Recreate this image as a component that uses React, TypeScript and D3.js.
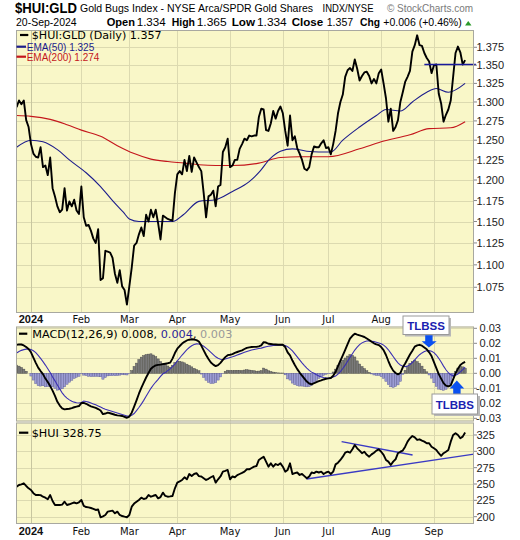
import React from 'react';
import * as d3 from 'd3';

// ---------- data ----------
const HOLIDAYS = ['2023-12-25', '2024-1-1', '2024-1-15', '2024-2-19', '2024-3-29', '2024-5-27', '2024-6-19', '2024-7-4', '2024-9-2'];
const MONTH_LABELS = ['2024', 'Feb', 'Mar', 'Apr', 'May', 'Jun', 'Jul', 'Aug', 'Sep'];

// $HUI:GLD daily close, 21-Dec-2023 .. 20-Sep-2024
const RATIO = [
  1.293, 1.302, 1.297, 1.302, 1.276, 1.267, 1.245, 1.233, 1.229, 1.228,
  1.241, 1.216, 1.218, 1.206, 1.228, 1.190, 1.180, 1.168, 1.161, 1.164,
  1.190, 1.163, 1.174, 1.168, 1.176, 1.163, 1.159, 1.192, 1.155, 1.145,
  1.146, 1.139, 1.130, 1.125, 1.141, 1.083, 1.085, 1.116, 1.115, 1.114,
  1.108, 1.090, 1.080, 1.094, 1.076, 1.072, 1.056, 1.076, 1.097, 1.122,
  1.125, 1.135, 1.143, 1.133, 1.158, 1.150, 1.164, 1.155, 1.164, 1.148,
  1.129, 1.157, 1.155, 1.153, 1.152, 1.151, 1.184, 1.207, 1.211, 1.207,
  1.225, 1.211, 1.230, 1.210, 1.228, 1.222, 1.216, 1.211, 1.184, 1.155,
  1.180, 1.182, 1.187, 1.168, 1.192, 1.194, 1.235, 1.241, 1.252, 1.216,
  1.218, 1.225, 1.225, 1.239, 1.245, 1.252, 1.250, 1.256, 1.255, 1.256,
  1.256, 1.280, 1.291, 1.290, 1.263, 1.262, 1.272, 1.288, 1.278, 1.288,
  1.294, 1.285, 1.262, 1.243, 1.282, 1.250, 1.255, 1.240, 1.233, 1.225,
  1.214, 1.212, 1.216, 1.232, 1.242, 1.241, 1.241, 1.246, 1.250, 1.240,
  1.241, 1.232, 1.245, 1.262, 1.285, 1.300, 1.310, 1.334, 1.343, 1.346,
  1.342, 1.358, 1.345, 1.329, 1.335, 1.340, 1.341, 1.335, 1.325, 1.331,
  1.325, 1.339, 1.344, 1.325, 1.305, 1.274, 1.291, 1.262, 1.267, 1.276,
  1.300, 1.313, 1.327, 1.334, 1.342, 1.369, 1.378, 1.392, 1.378, 1.377,
  1.367, 1.360, 1.355, 1.339, 1.350, 1.351, 1.311, 1.298, 1.274, 1.283,
  1.290, 1.302, 1.334, 1.367, 1.376, 1.368, 1.351, 1.357,
];

// $HUI daily close
const HUI = [
  245.9, 248.5, 249.5, 251.1, 247.0, 243.4, 240.9, 236.0, 233.2, 233.2,
  233.0, 230.6, 229.0, 226.6, 233.2, 224.0, 217.9, 217.9, 217.9, 218.5,
  222.9, 217.9, 219.0, 220.5, 221.7, 220.5, 222.0, 225.6, 216.4, 214.8,
  214.3, 213.3, 212.0, 210.3, 211.0, 199.1, 200.5, 202.6, 207.7, 208.5,
  209.2, 205.2, 207.7, 202.6, 201.0, 200.0, 199.1, 202.6, 215.3, 220.0,
  222.9, 225.6, 229.1, 227.0, 228.0, 233.2, 230.6, 232.0, 233.2, 228.0,
  230.0, 236.8, 231.7, 230.6, 231.0, 231.7, 243.4, 252.1, 254.0, 256.2,
  260.3, 257.2, 265.3, 262.3, 265.3, 266.6, 262.0, 261.5, 258.8, 256.2,
  258.0, 260.3, 262.3, 252.1, 257.2, 261.5, 268.9, 270.0, 271.5, 257.2,
  261.5, 260.3, 263.6, 265.3, 267.0, 268.9, 272.5, 272.5, 274.5, 276.5,
  277.5, 286.8, 289.3, 291.8, 284.2, 276.5, 281.6, 276.5, 280.6, 279.0,
  281.6, 276.5, 268.9, 271.5, 281.6, 265.3, 266.6, 267.6, 263.8, 265.3,
  262.0, 258.7, 261.5, 267.6, 266.6, 268.9, 267.6, 268.9, 265.3, 267.6,
  268.9, 265.3, 268.9, 280.0, 282.6, 286.8, 291.8, 297.9, 299.4, 297.9,
  303.1, 309.7, 304.6, 301.1, 297.1, 299.4, 294.6, 291.8, 295.3, 297.9,
  301.1, 303.1, 299.4, 294.6, 286.8, 284.2, 279.0, 284.2, 287.8, 297.1,
  299.4, 301.1, 307.1, 314.8, 319.9, 323.5, 321.4, 317.4, 318.4, 316.4,
  314.8, 312.3, 312.3, 307.1, 304.6, 302.1, 297.1, 293.1, 297.1, 299.4,
  302.1, 314.8, 325.0, 327.6, 325.0, 319.9, 322.5, 328.75,
];

// MACD(12,26,9) line, daily
const MACD = [
  0.0190, 0.0193, 0.0192, 0.0186, 0.0175, 0.0162, 0.0140, 0.0105, 0.0070, 0.0038,
  0.0015, -0.0005, -0.0035, -0.0058, -0.0085, -0.0115, -0.0150, -0.0190, -0.0215, -0.0233,
  -0.0240, -0.0238, -0.0236, -0.0232, -0.0226, -0.0222, -0.0218, -0.0198, -0.0197, -0.0203,
  -0.0212, -0.0220, -0.0225, -0.0230, -0.0238, -0.0248, -0.0272, -0.0268, -0.0262, -0.0266,
  -0.0271, -0.0276, -0.0280, -0.0282, -0.0284, -0.0290, -0.0296, -0.0288, -0.0262, -0.0222,
  -0.0180, -0.0136, -0.0097, -0.0062, -0.0028, 0.0002, 0.0030, 0.0044, 0.0053, 0.0056,
  0.0058, 0.0061, 0.0064, 0.0067, 0.0071, 0.0098, 0.0135, 0.0164, 0.0182, 0.0198,
  0.0210, 0.0219, 0.0224, 0.0227, 0.0225, 0.0221, 0.0212, 0.0185, 0.0153, 0.0122,
  0.0095, 0.0072, 0.0058, 0.0048, 0.0055, 0.0070, 0.0090, 0.0108, 0.0121, 0.0124,
  0.0128, 0.0136, 0.0142, 0.0148, 0.0153, 0.0162, 0.0170, 0.0173, 0.0175, 0.0176,
  0.0176, 0.0180, 0.0186, 0.0208, 0.0205, 0.0197, 0.0195, 0.0193, 0.0192, 0.0190,
  0.0190, 0.0190, 0.0175, 0.0140, 0.0120, 0.0085, 0.0055, 0.0028, 0.0005, -0.0015,
  -0.0035, -0.0055, -0.0068, -0.0073, -0.0066, -0.0058, -0.0052, -0.0047, -0.0041, -0.0036,
  -0.0034, -0.0031, -0.0016, 0.0010, 0.0048, 0.0085, 0.0120, 0.0157, 0.0195, 0.0231,
  0.0250, 0.0264, 0.0258, 0.0253, 0.0248, 0.0242, 0.0232, 0.0222, 0.0210, 0.0200,
  0.0193, 0.0188, 0.0175, 0.0155, 0.0122, 0.0082, 0.0045, 0.0018, 0.0002, -0.0007,
  0.0002, 0.0040, 0.0065, 0.0095, 0.0125, 0.0150, 0.0178, 0.0186, 0.0190, 0.0184,
  0.0172, 0.0160, 0.0140, 0.0115, 0.0075, 0.0035, -0.0005, -0.0035, -0.0065, -0.0082,
  -0.0087, -0.0080, -0.0040, 0.0000, 0.0031, 0.0055, 0.0068, 0.0076,
];

// MACD signal line, daily
const SIGNAL = [
  0.0135, 0.0145, 0.0153, 0.0158, 0.0161, 0.0162, 0.0158, 0.0150, 0.0138, 0.0120,
  0.0100, 0.0078, 0.0055, 0.0030, 0.0005, -0.0025, -0.0050, -0.0078, -0.0105, -0.0130,
  -0.0150, -0.0165, -0.0177, -0.0186, -0.0192, -0.0196, -0.0198, -0.0195, -0.0185, -0.0188,
  -0.0192, -0.0198, -0.0204, -0.0210, -0.0217, -0.0225, -0.0233, -0.0240, -0.0245, -0.0250,
  -0.0255, -0.0260, -0.0265, -0.0270, -0.0275, -0.0280, -0.0285, -0.0285, -0.0280, -0.0268,
  -0.0248, -0.0228, -0.0205, -0.0180, -0.0153, -0.0126, -0.0100, -0.0078, -0.0058, -0.0040,
  -0.0020, -0.0003, 0.0005, 0.0018, 0.0030, 0.0045, 0.0062, 0.0082, 0.0102, 0.0122,
  0.0140, 0.0158, 0.0172, 0.0184, 0.0192, 0.0196, 0.0195, 0.0190, 0.0180, 0.0168,
  0.0155, 0.0140, 0.0125, 0.0110, 0.0100, 0.0094, 0.0092, 0.0095, 0.0100, 0.0105,
  0.0110, 0.0116, 0.0122, 0.0128, 0.0134, 0.0140, 0.0146, 0.0151, 0.0155, 0.0159,
  0.0162, 0.0165, 0.0168, 0.0173, 0.0177, 0.0180, 0.0183, 0.0185, 0.0186, 0.0187,
  0.0188, 0.0188, 0.0185, 0.0177, 0.0165, 0.0150, 0.0130, 0.0110, 0.0090, 0.0070,
  0.0052, 0.0035, 0.0020, 0.0008, 0.0000, -0.0010, -0.0018, -0.0024, -0.0028, -0.0030,
  -0.0031, -0.0030, -0.0025, -0.0018, -0.0005, 0.0012, 0.0032, 0.0055, 0.0080, 0.0106,
  0.0130, 0.0155, 0.0175, 0.0191, 0.0203, 0.0211, 0.0215, 0.0216, 0.0214, 0.0211,
  0.0207, 0.0202, 0.0197, 0.0188, 0.0175, 0.0157, 0.0135, 0.0112, 0.0090, 0.0070,
  0.0055, 0.0047, 0.0045, 0.0049, 0.0058, 0.0072, 0.0090, 0.0108, 0.0124, 0.0136,
  0.0145, 0.0150, 0.0151, 0.0147, 0.0138, 0.0122, 0.0100, 0.0075, 0.0048, 0.0024,
  0.0004, -0.0010, -0.0016, -0.0013, -0.0004, 0.0010, 0.0025, 0.0042,
];

// moving averages read at key days (day index 0 = 2-Jan-2024)
const EMA50_DAY = [-6, 0, 5, 11, 16, 23, 29, 34, 38.5, 41, 45, 52, 59, 63.5, 70, 77, 84, 91, 95.5, 99.5, 104, 109, 115, 120, 125, 130, 137, 144, 148, 154, 159, 165, 169, 174, 181];
const EMA50_VAL = [1.241, 1.250, 1.248, 1.238, 1.225, 1.209, 1.192, 1.175, 1.161, 1.153, 1.150, 1.150, 1.150, 1.158, 1.174, 1.176, 1.186, 1.198, 1.211, 1.226, 1.236, 1.239, 1.236, 1.235, 1.235, 1.250, 1.267, 1.282, 1.290, 1.288, 1.300, 1.313, 1.318, 1.313, 1.325];
const EMA200_DAY = [-6, 0, 8, 15, 21, 29, 36, 43, 50, 57, 64, 70, 77, 84, 95, 104, 112, 124, 137, 146, 158, 166, 175, 181];
const EMA200_VAL = [1.282, 1.281, 1.277, 1.270, 1.263, 1.255, 1.243, 1.233, 1.226, 1.223, 1.221, 1.219, 1.218, 1.218, 1.221, 1.228, 1.229, 1.229, 1.239, 1.248, 1.257, 1.265, 1.266, 1.274];

// hand-drawn annotation lines
const RATIO_LEVEL = { from: 164, value: 1.351 };
const HUI_SUPPORT = [[114.9, 257.7], [184.7, 295.8]];
const HUI_RESIST = [[129.5, 314.8], [159.1, 294.4]];

const PRICE_TICKS = [1.075, 1.1, 1.125, 1.15, 1.175, 1.2, 1.225, 1.25, 1.275, 1.3, 1.325, 1.35, 1.375];
const MACD_TICKS = [-0.03, -0.02, -0.01, 0, 0.01, 0.02, 0.03];
const HUI_TICKS = [200, 225, 250, 275, 300, 325];

// ---------- helpers ----------
function tradingDays(n: number) {
  const out: Date[] = [];
  const d = new Date(2023, 11, 21);
  while (out.length < n) {
    const key = `${d.getFullYear()}-${d.getMonth() + 1}-${d.getDate()}`;
    const dow = d.getDay();
    if (dow !== 0 && dow !== 6 && !HOLIDAYS.includes(key)) out.push(new Date(d));
    d.setDate(d.getDate() + 1);
  }
  return out;
}

const OFFSET = 6; // array position k -> day index k - 6
const L = 16, R = 474;
const MAIN = { top: 30, bottom: 313 };
const MP = { top: 326.5, bottom: 421.5 };
const HP = { top: 422.5, bottom: 524 };

const BG = '#f9f7c8';
const GRID = '#dcdab0';
const BORDER = '#a8a8a0';
const SANS = 'Liberation Sans, Arial, sans-serif';
const VERD = 'DejaVu Sans, Verdana, sans-serif';

export default function App() {
  const days = tradingDays(RATIO.length);
  const monthStarts: number[] = [];
  days.forEach((d, k) => {
    if (k > 0 && d.getMonth() !== days[k - 1].getMonth()) monthStarts.push(k - OFFSET);
  });

  const x = d3.scaleLinear().domain([-6.25, 184.7]).range([L, R]);
  const yP = d3.scaleLog().domain([1.047, 1.3996]).range([MAIN.bottom, MAIN.top]);
  const yM = d3.scaleLinear().domain([-0.0321, 0.0312]).range([MP.bottom, MP.top]);
  const yH = d3.scaleLinear().domain([188.8, 344.1]).range([HP.bottom, HP.top]);

  const priceLine = d3.line<number>().x((_, k) => x(k - OFFSET)).y((v) => yP(v))(RATIO) || '';
  const huiLine = d3.line<number>().x((_, k) => x(k - OFFSET)).y((v) => yH(v))(HUI) || '';
  const macdLine = d3.line<number>().x((_, k) => x(k - OFFSET)).y((v) => yM(v))(MACD) || '';
  const sigLine = d3.line<number>().x((_, k) => x(k - OFFSET)).y((v) => yM(v))(SIGNAL) || '';
  const emaGen = d3.line<[number, number]>().x((d) => x(d[0])).y((d) => yP(d[1])).curve(d3.curveMonotoneX);
  const ema50 = emaGen(EMA50_DAY.map((d, i) => [d, EMA50_VAL[i]] as [number, number])) || '';
  const ema200 = emaGen(EMA200_DAY.map((d, i) => [d, EMA200_VAL[i]] as [number, number])) || '';
  const hist = MACD.map((m, k) => ({ i: k - OFFSET, v: m - SIGNAL[k] }));

  const panel = (top: number, bottom: number, ticks: number[], y: (v: number) => number, id: string) => (
    <g>
      <rect x={L} y={top} width={R - L} height={bottom - top} fill={BG} />
      {ticks.map((t) => (
        <line key={id + 'h' + t} x1={L} x2={R} y1={Math.round(y(t)) + 0.5} y2={Math.round(y(t)) + 0.5} stroke={GRID} strokeWidth={1} />
      ))}
      {monthStarts.map((m) => (
        <line key={id + 'v' + m} x1={Math.round(x(m)) + 0.5} x2={Math.round(x(m)) + 0.5} y1={top} y2={bottom} stroke={m === 0 ? '#c8c6a0' : GRID} strokeWidth={1} />
      ))}
    </g>
  );
  const frame = (top: number, bottom: number) => (
    <rect x={L + 0.5} y={top + 0.5} width={R - L - 1} height={bottom - top - 1} fill="none" stroke={BORDER} strokeWidth={1} />
  );

  return (
    <svg width={520} height={540} style={{ position: 'absolute', left: 0, top: 0, background: '#fff' }} fontFamily={SANS}>
      <defs>
        <clipPath id="cMain"><rect x={L} y={MAIN.top} width={R - L} height={MAIN.bottom - MAIN.top} /></clipPath>
        <clipPath id="cMacd"><rect x={L} y={MP.top} width={R - L} height={MP.bottom - MP.top} /></clipPath>
        <clipPath id="cHui"><rect x={L} y={HP.top} width={R - L} height={HP.bottom - HP.top} /></clipPath>
      </defs>
      <rect x={0} y={0} width={520} height={540} fill="#fff" />

      {/* header */}
      <text x={15} y={12.5} fontSize={15} fontWeight="bold" textLength={62} lengthAdjust="spacingAndGlyphs">$HUI:GLD</text>
      <text x={80} y={12} fontSize={11} textLength={233} lengthAdjust="spacingAndGlyphs">Gold Bugs Index - NYSE Arca/SPDR Gold Shares</text>
      <text x={322.5} y={12} fontSize={10.5} textLength={51} lengthAdjust="spacingAndGlyphs">INDX/NYSE</text>
      <text x={387} y={12} fontSize={11} fill="#7a7a7a" textLength={86} lengthAdjust="spacingAndGlyphs">© StockCharts.com</text>
      <text x={16} y={26} fontSize={11} textLength={60.7} lengthAdjust="spacingAndGlyphs">20-Sep-2024</text>
      {[
        ['Open', 106.7, 28.3, true], ['1.334', 136.7, 29, false],
        ['High', 171.7, 23.3, true], ['1.365', 196.7, 30, false],
        ['Low', 231.7, 23.3, true], ['1.334', 257, 29.7, false],
        ['Close', 291.7, 31.6, true], ['1.357', 326.7, 26.6, false],
        ['Chg', 360, 20, true], ['+0.006 (+0.46%)', 383.3, 78.4, false],
      ].map(([t, xx, w, b], k) => (
        <text key={'h' + k} x={xx as number} y={26} fontSize={11} fontWeight={b ? 'bold' : 'normal'} textLength={w as number} lengthAdjust="spacingAndGlyphs">{t as string}</text>
      ))}
      <path d="M465,25.5 L471.5,25.5 L468.25,21 Z" fill="#2a9a2a" />

      {/* main panel */}
      {panel(MAIN.top, MAIN.bottom, PRICE_TICKS, yP, 'm')}
      <g clipPath="url(#cMain)">
        <path d={ema200} fill="none" stroke="#c4161c" strokeWidth={1.1} />
        <path d={ema50} fill="none" stroke="#1c1c8c" strokeWidth={1.1} />
        <path d={priceLine} fill="none" stroke="#000" strokeWidth={1.9} strokeLinejoin="round" />
        <line x1={x(RATIO_LEVEL.from)} x2={R} y1={yP(RATIO_LEVEL.value)} y2={yP(RATIO_LEVEL.value)} stroke="#1a1a9c" strokeWidth={1.6} />
      </g>
      <line x1={R} x2={R + 2} y1={yP(RATIO_LEVEL.value)} y2={yP(RATIO_LEVEL.value)} stroke="#1a1a9c" strokeWidth={1.6} />
      {frame(MAIN.top, MAIN.bottom)}
      <line x1={20} x2={28.3} y1={35} y2={35} stroke="#000" strokeWidth={2.2} />
      <text x={31.7} y={38.8} fontSize={10.5} fontFamily={VERD} textLength={130} lengthAdjust="spacingAndGlyphs">$HUI:GLD (Daily) 1.357</text>
      <line x1={16.5} x2={26} y1={46.7} y2={46.7} stroke="#1c1c8c" strokeWidth={2.2} />
      <text x={26.7} y={50.5} fontSize={10.5} fill="#1c1c8c" textLength={67.6} lengthAdjust="spacingAndGlyphs">EMA(50) 1.325</text>
      <line x1={16.5} x2={26} y1={56.7} y2={56.7} stroke="#c4161c" strokeWidth={2.2} />
      <text x={26.7} y={60.5} fontSize={10.5} fill="#c4161c" textLength={72.6} lengthAdjust="spacingAndGlyphs">EMA(200) 1.274</text>
      {PRICE_TICKS.map((t) => (
        <g key={'pt' + t}>
          <line x1={R} x2={R + 3} y1={yP(t)} y2={yP(t)} stroke="#888" />
          <text x={476.5} y={yP(t) + 4} fontSize={11} fill="#222">{t.toFixed(3)}</text>
        </g>
      ))}

      {/* middle date axis (the Sep label sits under the TLBSS note box) */}
      {monthStarts.map((m, k) => (k < MONTH_LABELS.length - 1 ? (
        <text key={'ta' + m} x={x(m)} y={323.3} fontSize={k === 0 ? 11 : 10} fontWeight={k === 0 ? 'bold' : 'normal'}
          fontFamily={k === 0 ? SANS : VERD} textAnchor="middle" fill="#111">{MONTH_LABELS[k]}</text>
      ) : null))}

      {/* MACD panel */}
      {panel(MP.top, MP.bottom, MACD_TICKS, yM, 'c')}
      <g clipPath="url(#cMacd)">
        {hist.map((h) => (
          <rect key={'hb' + h.i} x={x(h.i) - 1.1} width={2.2}
            y={h.v >= 0 ? yM(h.v) : yM(0)} height={Math.abs(yM(h.v) - yM(0))}
            fill={h.v >= 0 ? '#7a7a7a' : '#9c9cd4'} stroke={h.v >= 0 ? '#4a4a4a' : '#5a5a9a'} strokeWidth={0.45} />
        ))}
        <path d={sigLine} fill="none" stroke="#3a2fb4" strokeWidth={1.1} />
        <path d={macdLine} fill="none" stroke="#000" strokeWidth={1.9} strokeLinejoin="round" />
      </g>
      {frame(MP.top, MP.bottom)}
      <line x1={19} x2={27.3} y1={333.7} y2={333.7} stroke="#000" strokeWidth={2.2} />
      <text x={32.3} y={337.6} fontSize={11} fontFamily={VERD} textLength={200} lengthAdjust="spacingAndGlyphs">
        MACD(12,26,9) 0.008, <tspan fill="#2a1f9a">0.004</tspan>, <tspan fill="#9a9a9a">0.003</tspan>
      </text>
      {MACD_TICKS.map((t) => (
        <g key={'mt' + t}>
          <line x1={R} x2={R + 3} y1={yM(t)} y2={yM(t)} stroke="#888" />
          <text x={501} y={yM(t) + 4} fontSize={11} textAnchor="end" fill="#222">{t.toFixed(2)}</text>
        </g>
      ))}

      {/* annotations */}
      <g>
        <rect x={405} y={318} width={46} height={18.5} fill="#b8b8b8" />
        <rect x={403} y={316} width={46} height={18.5} fill="#fff" stroke="#9a9a9a" />
        <text x={426} y={329.8} fontSize={11.5} fontWeight="bold" fill="#1a22b0" textAnchor="middle">TLBSS</text>
        <path d="M425.2,335.3 L432.6,335.3 L432.6,341.3 L436.7,341.3 L428.9,347.6 L421.7,341.3 L425.2,341.3 Z" fill="#0a50f0" />
        <path d="M453.2,394 L460.6,394 L460.6,388.5 L464.2,388.5 L456.8,380.5 L449.6,388.5 L453.2,388.5 Z" fill="#0a50f0" />
        <rect x={434} y={396} width={46} height={20} fill="#b8b8b8" />
        <rect x={432} y={394} width={45.5} height={20} fill="#fff" stroke="#9a9a9a" />
        <text x={454.8} y={408.6} fontSize={11.5} fontWeight="bold" fill="#1a22b0" textAnchor="middle">TLBBS</text>
      </g>

      {/* HUI panel */}
      {panel(HP.top, HP.bottom, HUI_TICKS, yH, 'u')}
      <g clipPath="url(#cHui)">
        <line x1={x(HUI_SUPPORT[0][0])} y1={yH(HUI_SUPPORT[0][1])} x2={x(HUI_SUPPORT[1][0])} y2={yH(HUI_SUPPORT[1][1])} stroke="#3a3ac4" strokeWidth={1.4} />
        <line x1={x(HUI_RESIST[0][0])} y1={yH(HUI_RESIST[0][1])} x2={x(HUI_RESIST[1][0])} y2={yH(HUI_RESIST[1][1])} stroke="#3a3ac4" strokeWidth={1.4} />
        <path d={huiLine} fill="none" stroke="#000" strokeWidth={1.9} strokeLinejoin="round" />
      </g>
      {frame(HP.top, HP.bottom)}
      <line x1={19} x2={28.3} y1={432.7} y2={432.7} stroke="#000" strokeWidth={2.2} />
      <text x={31.7} y={436.6} fontSize={11} fontFamily={VERD} textLength={70} lengthAdjust="spacingAndGlyphs">$HUI 328.75</text>
      {HUI_TICKS.map((t) => (
        <g key={'ut' + t}>
          <line x1={R} x2={R + 3} y1={yH(t)} y2={yH(t)} stroke="#888" />
          <text x={476.5} y={yH(t) + 4} fontSize={11} fill="#222">{t}</text>
        </g>
      ))}

      {/* bottom date axis */}
      {monthStarts.map((m, k) => (
        <text key={'ba' + m} x={x(m)} y={535} fontSize={k === 0 ? 11 : 10} fontWeight={k === 0 ? 'bold' : 'normal'}
          fontFamily={k === 0 ? SANS : VERD} textAnchor="middle" fill="#111">{MONTH_LABELS[k]}</text>
      ))}
    </svg>
  );
}
